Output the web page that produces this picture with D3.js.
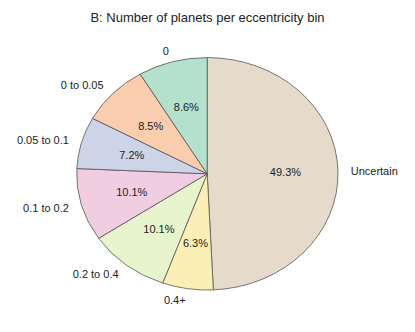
<!DOCTYPE html>
<html><head><meta charset="utf-8">
<script src="https://cdn.jsdelivr.net/npm/d3@7"></script>
<style>html,body{margin:0;padding:0;background:#fff;}svg{display:block;}</style>
</head><body>
<script>
const categories = ["Uncertain", "0.4+", "0.2 to 0.4", "0.1 to 0.2", "0.05 to 0.1", "0 to 0.05", "0"];
const percents = [49.3, 6.3, 10.1, 10.1, 7.2, 8.5, 8.6];
const percentLabels = ["49.3%", "6.3%", "10.1%", "10.1%", "7.2%", "8.5%", "8.6%"];
const colors = ["#e6dacb", "#fcefb5", "#e8f4cb", "#f1cde1", "#cdd4e8", "#f9cdae", "#b3e1cd"];
const title = "B: Number of planets per eccentricity bin";

const W = 415, H = 332, cx = 207.2, cy = 173.8, rx = 130.5, ry = 116.2;
const svg = d3.select("body").append("svg").attr("width", W).attr("height", H);
svg.append("rect").attr("width", W).attr("height", H).attr("fill", "#fff");

svg.append("text").attr("x", 207.5).attr("y", 22).attr("text-anchor", "middle")
  .attr("font-family", "Liberation Sans, Arial, sans-serif").attr("font-size", 13)
  .attr("fill", "#222").text(title);

const data = categories.map((c, i) => ({cat: c, v: percents[i], lab: percentLabels[i], col: colors[i]}));
const pie = d3.pie().sort(null).value(d => d.v).startAngle(0).endAngle(2 * Math.PI);
const arcs = pie(data);
const arc = d3.arc().innerRadius(0).outerRadius(1);

const g = svg.append("g").attr("transform", `translate(${cx},${cy})`);
g.selectAll("path").data(arcs).join("path")
  .attr("transform", `scale(${rx},${ry})`)
  .attr("d", arc)
  .attr("fill", d => d.data.col)
  .attr("stroke", "#555").attr("stroke-width", 0.8)
  .attr("vector-effect", "non-scaling-stroke");

const pos = (a, f) => [Math.sin(a) * rx * f, -Math.cos(a) * ry * f];
const font = "Liberation Sans, Arial, sans-serif";
g.selectAll("text.pct").data(arcs).join("text").attr("class", "pct")
  .each(function(d) {
    const m = (d.startAngle + d.endAngle) / 2;
    const [x, y] = pos(m, 0.6);
    d3.select(this).attr("x", x).attr("y", y);
  })
  .attr("text-anchor", "middle").attr("dominant-baseline", "central")
  .attr("font-family", font).attr("font-size", 11).attr("fill", "#222")
  .text(d => d.data.lab);

g.selectAll("text.cat").data(arcs).join("text").attr("class", "cat")
  .each(function(d) {
    const m = (d.startAngle + d.endAngle) / 2;
    const [x, y] = pos(m, 1.1);
    d3.select(this).attr("x", x).attr("y", y).attr("text-anchor", x >= 0 ? "start" : "end");
  })
  .attr("dominant-baseline", "central")
  .attr("font-family", font).attr("font-size", 11).attr("fill", "#222")
  .text(d => d.data.cat);
</script>
</body></html>
